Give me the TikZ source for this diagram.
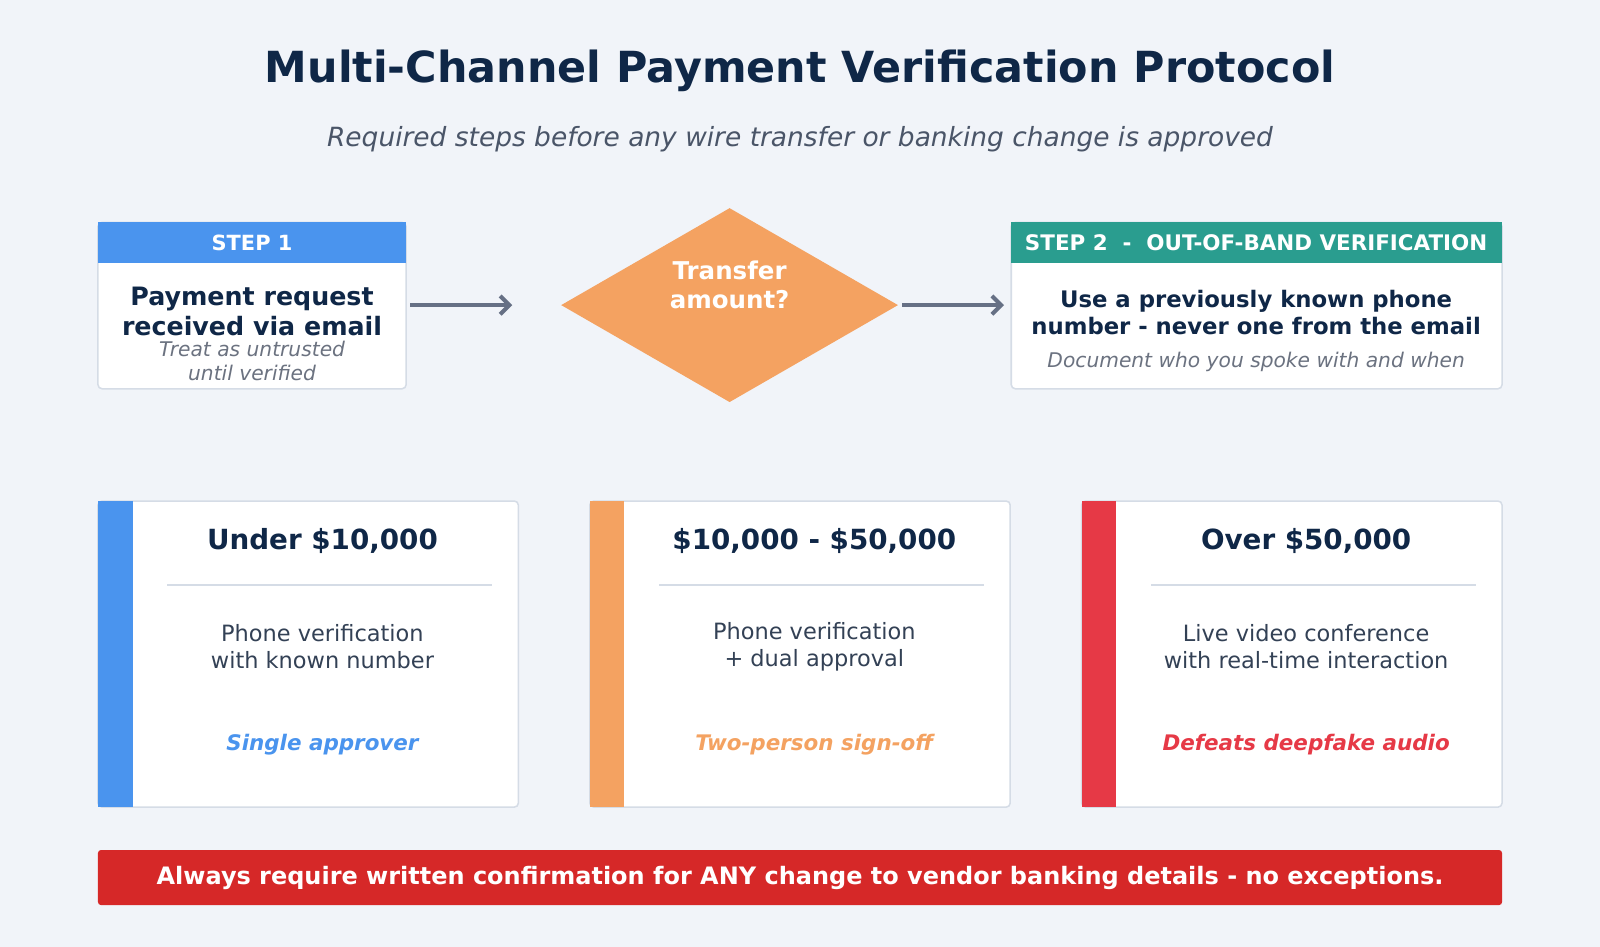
\documentclass[tikz,border=0pt]{standalone}
\usepackage{fontspec}
\setmainfont{DejaVu Sans}
\usetikzlibrary{arrows.meta}
\definecolor{bg}{HTML}{F1F4F9}
\definecolor{navy}{HTML}{0F2747}
\definecolor{subg}{HTML}{4A5568}
\definecolor{itg}{HTML}{6B7280}
\definecolor{blue1}{HTML}{4A94EE}
\definecolor{teal1}{HTML}{2A9D8F}
\definecolor{orange1}{HTML}{F4A261}
\definecolor{red1}{HTML}{E63946}
\definecolor{red2}{HTML}{D62828}
\definecolor{body}{HTML}{334155}
\definecolor{bord}{HTML}{D5DCE6}
\definecolor{arr}{HTML}{667085}
\newcommand{\fs}[1]{\fontsize{#1}{\dimexpr#1pt*12/10\relax}\selectfont}
\tikzset{
 card/.style={draw=bord,line width=1.5pt,fill=white,rounded corners=4pt},
 conn/.style={draw=arr,line width=4pt,-{Straight Barb[length=9pt,width=18pt,line width=4pt]}},
 tx/.style={inner sep=0pt,align=center}
}
\begin{document}
\begin{tikzpicture}[x=1pt,y=-1pt]
\fill[bg] (0,0) rectangle (1568,928);
\useasboundingbox (0,0) rectangle (1568,928);
\node[tx,text=navy,font=\fs{42}\bfseries] (title) at (784,69) {Multi-Channel Payment Verification Protocol};
\node[tx,text=subg,font=\fs{25.9}\itshape] (sub) at (784,136) {Required steps before any wire transfer or banking change is approved};
% step 1
\draw[card] (96,218) rectangle (398,381);
\fill[blue1] (96,218) rectangle (398,258);
\node[tx,text=white,font=\fs{20.5}\bfseries] (s1h) at (247,238) {STEP 1};
\node[tx,text=navy,font=\fs{24.8}\bfseries] (s1) at (247,305) {Payment request\\received via email};
\node[tx,text=itg,font=\fs{19.8}\itshape] (s1i) at (247,354) {Treat as untrusted\\until verified};
% diamond
\fill[orange1] (550,299) -- (715,204) -- (880,299) -- (715,394) -- cycle;
\node[tx,text=white,font=\fs{24}\bfseries] (dia) at (715,279) {Transfer\\amount?};
% step 2
\draw[card] (991,218) rectangle (1472,381);
\fill[teal1] (991,218) rectangle (1472,258);
\node[tx,text=white,font=\fs{21}\bfseries] (s2h) at (1231,238) {STEP 2\ \ -\ \ OUT-OF-BAND VERIFICATION};
\node[tx,text=navy,font=\fs{22.3}\bfseries] (s2) at (1231,306) {Use a previously known phone\\number - never one from the email};
\node[tx,text=itg,font=\fs{19.8}\itshape] (s2i) at (1231,355) {Document who you spoke with and when};
\coordinate (s1r) at (402,299); \coordinate (a1e) at (502,299);
\coordinate (a2s) at (884,299); \coordinate (s2l) at (984,299);
\draw[conn] (s1r) -- (a1e);
\draw[conn] (a2s) -- (s2l);
% cards
\foreach \x/\c/\t/\a/\b/\f in {96/blue1/Under \$10{,}000/Phone verification/with known number/Single approver,
 578/orange1/\$10{,}000 - \$50{,}000/Phone verification/+ dual approval/Two-person sign-off,
 1060/red1/Over \$50{,}000/Live video conference/with real-time interaction/Defeats deepfake audio}{
 \draw[card] (\x,491) rectangle ++(412,300);
 \fill[\c] (\x,491) rectangle ++(34,300);
 \draw[bord,line width=2pt] (\x+68,573) -- ++(318,0);
 \node[tx,text=navy,font=\fs{27.2}\bfseries] at (\x+220,530) {\t};
 \node[tx,text=body,font=\fs{22}] at (\x+220,634) {\a\\\b};
 \node[tx,text=\c,font=\fs{21}\bfseries\itshape] at (\x+220,730) {\f};
}
\fill[red2,rounded corners=3pt] (96,833) rectangle (1472,887);
\node[tx,text=white,font=\fs{23.5}\bfseries] (ban) at (784,860) {Always require written confirmation for ANY change to vendor banking details - no exceptions.};
\end{tikzpicture}
\end{document}
